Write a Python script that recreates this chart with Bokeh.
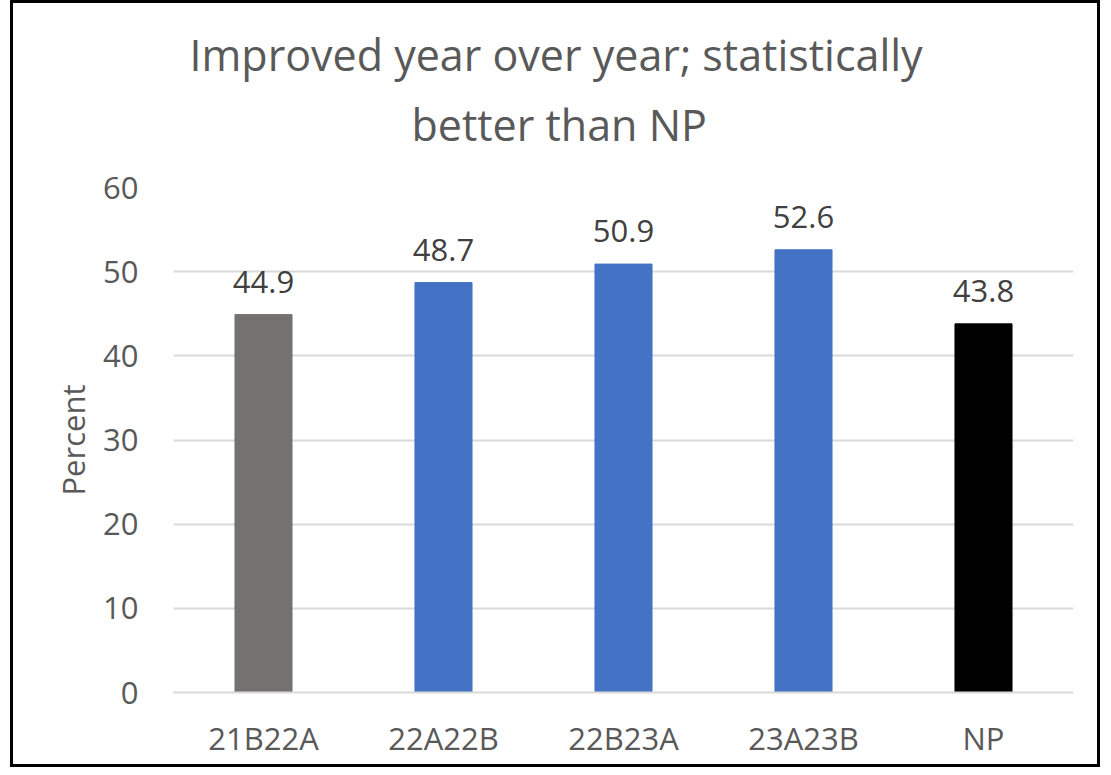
from bokeh.plotting import figure
from bokeh.models import ColumnDataSource, LabelSet, Title, Range1d, FixedTicker
from bokeh.core.properties import value
from bokeh.embed import file_html
from bokeh.resources import INLINE

categories = ["21B22A", "22A22B", "22B23A", "23A23B", "NP"]
values = [44.9, 48.7, 50.9, 52.6, 43.8]
colors = ["#767171", "#4472C4", "#4472C4", "#4472C4", "#000000"]
labels = ["44.9", "48.7", "50.9", "52.6", "43.8"]
title_lines = ["Improved year over year; statistically", "better than NP"]
y_ticks = [0, 10, 20, 30, 40, 50, 60]

FONT = "Open Sans"
TXT = "#595959"

src = ColumnDataSource(dict(cat=categories, val=values, col=colors, lab=labels))

p = figure(x_range=categories, y_range=Range1d(0, 60), width=1090, height=767,
           output_backend="svg", toolbar_location=None,
           min_border_left=160, min_border_right=30, min_border_top=184, min_border_bottom=78)
p.styles = {"border": "3px solid black", "margin-left": "10px"}
p.outline_line_color = None
p.background_fill_color = "white"
p.border_fill_color = "white"

p.vbar(x="cat", top="val", width=0.317, color="col", source=src)

p.add_layout(LabelSet(x="cat", y="val", text="lab", source=src, text_align="center",
                      text_baseline="alphabetic", y_offset=22, text_font=value(FONT),
                      text_font_size=value("31px"), text_color=value("#404040")))

p.xgrid.grid_line_color = None
p.ygrid.grid_line_color = "#D9D9D9"
p.ygrid.grid_line_width = 2
p.yaxis.ticker = FixedTicker(ticks=y_ticks)

for ax in (p.xaxis, p.yaxis):
    ax.axis_line_color = None
    ax.major_tick_line_color = None
    ax.minor_tick_line_color = None
    ax.major_label_text_font = FONT
    ax.major_label_text_font_size = "31px"
    ax.major_label_text_color = TXT

p.xaxis.axis_line_color = "#D9D9D9"
p.xaxis.axis_line_width = 2
p.xaxis.major_label_standoff = 18
p.yaxis.major_label_standoff = 29
p.yaxis.axis_label = "Percent"
p.yaxis.axis_label_text_font = FONT
p.yaxis.axis_label_text_font_size = "31px"
p.yaxis.axis_label_text_font_style = "normal"
p.yaxis.axis_label_text_color = TXT
p.yaxis.axis_label_standoff = 6

# titles: the one added first sits nearest the plot
p.add_layout(Title(text=title_lines[1], align="left", offset=238, standoff=67,
                   text_font=FONT, text_font_size="43px", text_font_style="normal",
                   text_color=TXT), "above")
p.add_layout(Title(text=title_lines[0], align="left", offset=16, standoff=-49,
                   text_font=FONT, text_font_size="43px", text_font_style="normal",
                   text_color=TXT), "above")

open("out.html", "w").write(file_html(p, INLINE))
